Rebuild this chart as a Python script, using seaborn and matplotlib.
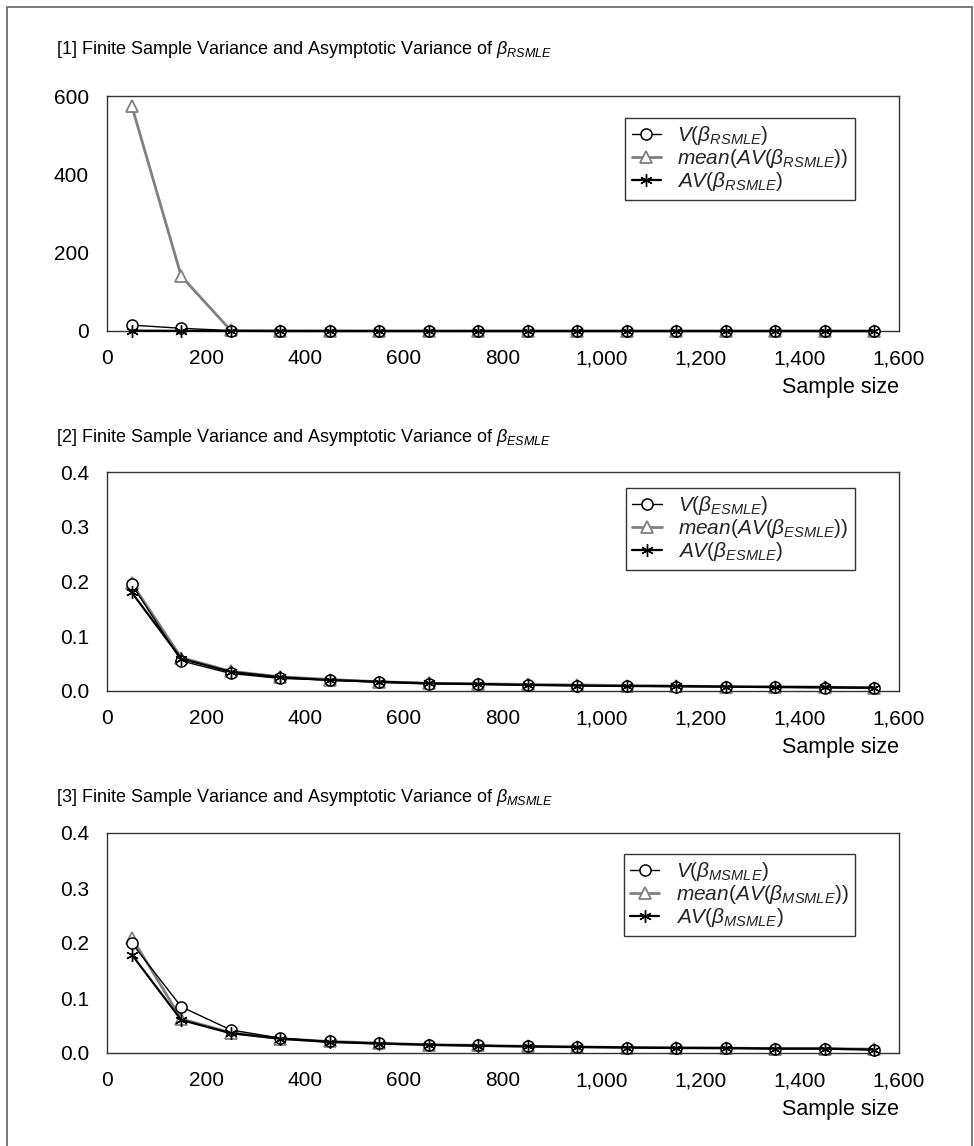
import matplotlib
matplotlib.use("Agg")
import matplotlib.pyplot as plt
import matplotlib.patches as mpatches
from matplotlib.ticker import FuncFormatter, MultipleLocator
import seaborn as sns
import pandas as pd

sample_sizes = [50, 150, 250, 350, 450, 550, 650, 750, 850, 950, 1050, 1150, 1250, 1350, 1450, 1550]

# Panel 1: RSMLE
v_rsmle = [15, 7, 1.0, 0.3, 0.15, 0.1, 0.08, 0.06, 0.05, 0.04, 0.04, 0.03, 0.03, 0.03, 0.02, 0.02]
mav_rsmle = [575, 140, 1.5, 0.4, 0.2, 0.12, 0.09, 0.07, 0.06, 0.05, 0.04, 0.04, 0.03, 0.03, 0.03, 0.02]
av_rsmle = [1.0, 0.3, 0.1, 0.05, 0.04, 0.03, 0.03, 0.02, 0.02, 0.02, 0.02, 0.01, 0.01, 0.01, 0.01, 0.01]

# Panel 2: ESMLE
v_esmle = [0.195, 0.055, 0.032, 0.023, 0.020, 0.016, 0.013, 0.012, 0.011, 0.010, 0.009, 0.008, 0.008, 0.007, 0.006, 0.005]
mav_esmle = [0.197, 0.061, 0.036, 0.026, 0.021, 0.017, 0.014, 0.013, 0.012, 0.011, 0.010, 0.009, 0.008, 0.008, 0.007, 0.006]
av_esmle = [0.180, 0.059, 0.035, 0.025, 0.020, 0.017, 0.014, 0.013, 0.011, 0.010, 0.009, 0.009, 0.008, 0.007, 0.007, 0.006]

# Panel 3: MSMLE
v_msmle = [0.200, 0.084, 0.042, 0.027, 0.021, 0.018, 0.015, 0.014, 0.012, 0.011, 0.010, 0.009, 0.009, 0.008, 0.008, 0.006]
mav_msmle = [0.210, 0.062, 0.037, 0.026, 0.021, 0.018, 0.015, 0.014, 0.012, 0.011, 0.010, 0.010, 0.009, 0.008, 0.008, 0.007]
av_msmle = [0.179, 0.060, 0.036, 0.026, 0.020, 0.017, 0.015, 0.013, 0.012, 0.011, 0.010, 0.009, 0.009, 0.008, 0.008, 0.006]

estimators = ["RSMLE", "ESMLE", "MSMLE"]
panel_data = [
    (v_rsmle, mav_rsmle, av_rsmle),
    (v_esmle, mav_esmle, av_esmle),
    (v_msmle, mav_msmle, av_msmle),
]
y_max = [600, 0.4, 0.4]
y_step = [200, 0.1, 0.1]
x_ticks = [0, 200, 400, 600, 800, 1000, 1200, 1400, 1600]

sns.set_theme(style="white")
plt.rcParams["font.family"] = ["Liberation Sans", "DejaVu Sans"]
plt.rcParams["mathtext.fontset"] = "custom"
plt.rcParams["mathtext.rm"] = "Liberation Sans"
plt.rcParams["mathtext.it"] = "Liberation Sans:italic"
plt.rcParams["mathtext.bf"] = "Liberation Sans:bold"

W, H = 974, 1146
fig = plt.figure(figsize=(W / 100, H / 100), dpi=100)

# outer frame
fig.patches.append(mpatches.Rectangle((7 / W, -0.01), (972 - 7) / W, 1 - 7 / H + 0.01,
                                      transform=fig.transFigure, fill=False,
                                      edgecolor="#6e6e6e", linewidth=1.3))

# axes positions in pixels: (top, bottom)
ax_px = [(96, 331), (472, 691), (833, 1053)]
title_y = [50, 437, 797]
legend_top = [118, 488, 854]
left_px, right_px = 107, 899

GRAY = "#808080"

for i in range(3):
    top, bot = ax_px[i]
    ax = fig.add_axes([left_px / W, 1 - bot / H, (right_px - left_px) / W, (bot - top) / H])
    v, mav, av = panel_data[i]
    est = estimators[i]
    df = pd.DataFrame({"n": sample_sizes, "v": v, "mav": mav, "av": av})

    sns.lineplot(data=df, x="n", y="v", ax=ax, color="black", linewidth=1.0,
                 marker="o", markersize=8, markerfacecolor="white",
                 markeredgecolor="black", markeredgewidth=1.1, clip_on=False, zorder=3,
                 label=r"$\mathit{V(\beta_{%s})}$" % est)
    sns.lineplot(data=df, x="n", y="mav", ax=ax, color=GRAY, linewidth=2.0,
                 marker="^", markersize=9, markerfacecolor="white",
                 markeredgecolor=GRAY, markeredgewidth=1.3, clip_on=False, zorder=2,
                 label=r"$\mathit{mean(AV(\beta_{%s}))}$" % est)
    sns.lineplot(data=df, x="n", y="av", ax=ax, color="black", linewidth=1.6,
                 marker=(6, 2, 0), markersize=9, markeredgecolor="black",
                 markeredgewidth=1.0, clip_on=False, zorder=4,
                 label=r"$\mathit{AV(\beta_{%s})}$" % est)

    ax.set_xlim(0, 1600)
    ax.set_ylim(0, y_max[i])
    ax.set_xticks(x_ticks)
    ax.xaxis.set_major_formatter(FuncFormatter(lambda x, p: f"{int(x):,}"))
    ax.yaxis.set_major_locator(MultipleLocator(y_step[i]))
    if i == 0:
        ax.yaxis.set_major_formatter(FuncFormatter(lambda y, p: f"{int(round(y))}"))
    else:
        ax.yaxis.set_major_formatter(FuncFormatter(lambda y, p: f"{y:.1f}"))
    ax.tick_params(axis="both", direction="in", length=6, width=1.0, color="black",
                   labelsize=15, labelcolor="black")
    ax.tick_params(axis="x", pad=13)
    ax.tick_params(axis="y", pad=13)
    ax.set_xlabel("")
    ax.set_ylabel("")
    for s in ax.spines.values():
        s.set_color("#333333")
        s.set_linewidth(1.0)
        s.set_visible(True)

    leg = ax.legend(loc="upper right",
                    bbox_to_anchor=((855 - left_px) / (right_px - left_px),
                                    (bot - legend_top[i]) / (bot - top)),
                    borderaxespad=0, frameon=True, fancybox=False, fontsize=15,
                    handlelength=1.4, handletextpad=0.8, labelspacing=0.0,
                    borderpad=0.3, edgecolor="black")
    leg.get_frame().set_linewidth(1.0)

    fig.text(56 / W, 1 - title_y[i] / H,
             r"[%d] Finite Sample Variance and Asymptotic Variance of $\mathit{\beta_{%s}}$" % (i + 1, est),
             fontsize=13, va="center", ha="left", color="black")
    fig.text(right_px / W, 1 - (bot + 57) / H, "Sample size", fontsize=15.5,
             va="center", ha="right", color="black")

fig.savefig("out.png", dpi=100)
